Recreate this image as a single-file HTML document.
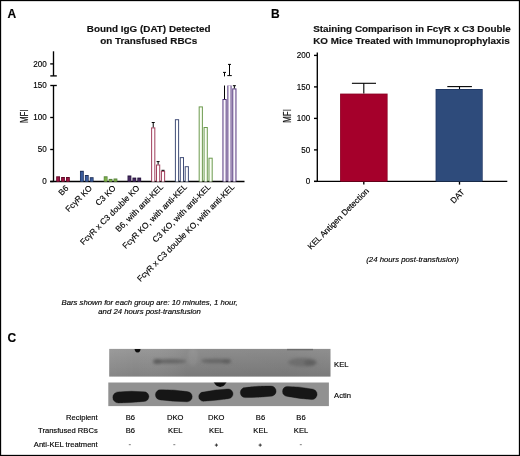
<!DOCTYPE html><html><head><meta charset="utf-8"><style>html,body{margin:0;padding:0;background:#fff;}svg{display:block;opacity:0.999;}text{font-family:"Liberation Sans", sans-serif;stroke:#000;stroke-width:0.15px;paint-order:stroke;}</style></head><body>
<svg width="520" height="456" viewBox="0 0 520 456">
<defs><filter id="b1" x="-50%" y="-50%" width="200%" height="200%"><feGaussianBlur stdDeviation="1.2"/></filter><filter id="b2" x="-50%" y="-50%" width="200%" height="200%"><feGaussianBlur stdDeviation="2.2"/></filter><filter id="b15" x="-50%" y="-50%" width="200%" height="200%"><feGaussianBlur stdDeviation="1.6"/></filter><filter id="b07" x="-50%" y="-50%" width="200%" height="200%"><feGaussianBlur stdDeviation="0.9"/></filter><filter id="b05" x="-50%" y="-50%" width="200%" height="200%"><feGaussianBlur stdDeviation="0.6"/></filter><clipPath id="cpA"><rect x="108.3" y="382.5" width="220.6" height="23.6"/></clipPath><clipPath id="cpK"><rect x="109.2" y="348.9" width="221.3" height="27.7"/></clipPath><filter id="gb" x="0" y="0" width="520" height="456" filterUnits="userSpaceOnUse"><feGaussianBlur stdDeviation="0"/></filter><linearGradient id="kelv" x1="0" y1="0" x2="0" y2="1"><stop offset="0" stop-color="#979797"/><stop offset="0.5" stop-color="#8c8c8c"/><stop offset="1" stop-color="#828282"/></linearGradient><linearGradient id="kelh" x1="0" y1="0" x2="1" y2="0"><stop offset="0" stop-color="#fff" stop-opacity="0.04"/><stop offset="0.12" stop-color="#fff" stop-opacity="0"/><stop offset="0.35" stop-color="#000" stop-opacity="0.06"/><stop offset="0.8" stop-color="#000" stop-opacity="0.08"/><stop offset="1" stop-color="#000" stop-opacity="0.05"/></linearGradient></defs>
<rect x="0" y="0" width="520" height="456" fill="#fff"/>
<rect x="0.5" y="0.5" width="519" height="455" fill="none" stroke="#000" stroke-width="1.3"/>
<text x="7.6" y="17.5" font-size="12" font-weight="bold" fill="#000">A</text>
<text x="271.0" y="17.5" font-size="12" font-weight="bold" fill="#000">B</text>
<text x="7.4" y="342.2" font-size="12" font-weight="bold" fill="#000">C</text>
<text x="148.7" y="32.3" font-size="9.9" font-weight="bold" text-anchor="middle" fill="#111">Bound IgG (DAT) Detected</text>
<text x="148.7" y="43.9" font-size="9.9" font-weight="bold" text-anchor="middle" fill="#111">on Transfused RBCs</text>
<text x="313.2" y="31.9" font-size="9.9" font-weight="bold" fill="#111">Staining Comparison in Fc&#947;R x C3 Double</text>
<text x="313.2" y="43.6" font-size="9.9" font-weight="bold" fill="#111">KO Mice Treated with Immunoprophylaxis</text>
<g stroke="#000" stroke-width="1.35" fill="none">
<line x1="53.5" y1="85.5" x2="53.5" y2="181.5"/>
<line x1="53.5" y1="51.3" x2="53.5" y2="75.9"/>
<line x1="50.3" y1="75.9" x2="56.8" y2="75.9"/>
<line x1="50.3" y1="85.5" x2="56.8" y2="85.5"/>
<line x1="50.2" y1="63.9" x2="53.5" y2="63.9"/>
<line x1="50.2" y1="181.50" x2="53.5" y2="181.50"/>
<line x1="50.2" y1="149.50" x2="53.5" y2="149.50"/>
<line x1="50.2" y1="117.50" x2="53.5" y2="117.50"/>
<line x1="50.2" y1="181.5" x2="244.5" y2="181.5"/>
</g>
<text transform="translate(46.8,66.65) scale(0.94,1)" font-size="8.6" text-anchor="end" fill="#000">200</text>
<text transform="translate(46.8,88.25) scale(0.94,1)" font-size="8.6" text-anchor="end" fill="#000">150</text>
<text transform="translate(46.8,120.25) scale(0.94,1)" font-size="8.6" text-anchor="end" fill="#000">100</text>
<text transform="translate(46.8,152.25) scale(0.94,1)" font-size="8.6" text-anchor="end" fill="#000">50</text>
<text transform="translate(46.8,184.25) scale(0.94,1)" font-size="8.6" text-anchor="end" fill="#000">0</text>
<text transform="translate(27.8,116.2) rotate(-90) scale(0.8,1)" font-size="10" text-anchor="middle" fill="#111">MFI</text>
<rect x="56.20" y="176.30" width="3.80" height="5.20" fill="#5e0a26"/>
<rect x="56.80" y="177.30" width="2.60" height="4.20" fill="#9a1442"/>
<rect x="61.10" y="177.00" width="3.80" height="4.50" fill="#5e0a26"/>
<rect x="61.70" y="178.00" width="2.60" height="3.50" fill="#9a1442"/>
<rect x="66.00" y="177.00" width="3.80" height="4.50" fill="#5e0a26"/>
<rect x="66.60" y="178.00" width="2.60" height="3.50" fill="#9a1442"/>
<rect x="79.98" y="170.80" width="3.80" height="10.70" fill="#1c2d55"/>
<rect x="80.58" y="171.80" width="2.60" height="9.70" fill="#3a5b9b"/>
<rect x="84.88" y="175.00" width="3.80" height="6.50" fill="#1c2d55"/>
<rect x="85.48" y="176.00" width="2.60" height="5.50" fill="#3a5b9b"/>
<rect x="89.78" y="177.20" width="3.80" height="4.30" fill="#1c2d55"/>
<rect x="90.38" y="178.20" width="2.60" height="3.30" fill="#3a5b9b"/>
<rect x="103.76" y="176.30" width="3.80" height="5.20" fill="#55803a"/>
<rect x="104.36" y="177.30" width="2.60" height="4.20" fill="#7db048"/>
<rect x="108.66" y="178.90" width="3.80" height="2.60" fill="#55803a"/>
<rect x="109.26" y="179.90" width="2.60" height="1.60" fill="#7db048"/>
<rect x="113.56" y="178.50" width="3.80" height="3.00" fill="#55803a"/>
<rect x="114.16" y="179.50" width="2.60" height="2.00" fill="#7db048"/>
<rect x="127.54" y="175.50" width="3.80" height="6.00" fill="#24123a"/>
<rect x="128.14" y="176.50" width="2.60" height="5.00" fill="#45295f"/>
<rect x="132.44" y="177.60" width="3.80" height="3.90" fill="#24123a"/>
<rect x="133.04" y="178.60" width="2.60" height="2.90" fill="#45295f"/>
<rect x="137.34" y="177.60" width="3.80" height="3.90" fill="#24123a"/>
<rect x="137.94" y="178.60" width="2.60" height="2.90" fill="#45295f"/>
<rect x="151.12" y="127.40" width="4.20" height="54.10" fill="#a03f5c"/>
<rect x="152.12" y="128.40" width="2.20" height="53.10" fill="#fff"/>
<g stroke="#000" stroke-width="1"><line x1="153.22" y1="122.50" x2="153.22" y2="127.40"/><line x1="151.72" y1="122.50" x2="154.72" y2="122.50"/></g>
<rect x="156.02" y="164.50" width="4.20" height="17.00" fill="#a03f5c"/>
<rect x="157.02" y="165.50" width="2.20" height="16.00" fill="#fff"/>
<g stroke="#000" stroke-width="1"><line x1="158.12" y1="161.60" x2="158.12" y2="164.50"/><line x1="156.62" y1="161.60" x2="159.62" y2="161.60"/></g>
<rect x="160.92" y="170.80" width="4.20" height="10.70" fill="#a03f5c"/>
<rect x="161.92" y="171.80" width="2.20" height="9.70" fill="#fff"/>
<g stroke="#000" stroke-width="1"><line x1="163.02" y1="170.30" x2="163.02" y2="170.80"/><line x1="161.52" y1="170.30" x2="164.52" y2="170.30"/></g>
<rect x="174.90" y="119.20" width="4.20" height="62.30" fill="#414e78"/>
<rect x="175.90" y="120.20" width="2.20" height="61.30" fill="#fff"/>
<rect x="179.80" y="157.10" width="4.20" height="24.40" fill="#414e78"/>
<rect x="180.80" y="158.10" width="2.20" height="23.40" fill="#fff"/>
<rect x="184.70" y="166.20" width="4.20" height="15.30" fill="#414e78"/>
<rect x="185.70" y="167.20" width="2.20" height="14.30" fill="#fff"/>
<rect x="198.68" y="106.40" width="4.20" height="75.10" fill="#6c9a4e"/>
<rect x="199.68" y="107.40" width="2.20" height="74.10" fill="#fbfff6"/>
<rect x="203.58" y="127.00" width="4.20" height="54.50" fill="#6c9a4e"/>
<rect x="204.58" y="128.00" width="2.20" height="53.50" fill="#fbfff6"/>
<rect x="208.48" y="157.70" width="4.20" height="23.80" fill="#6c9a4e"/>
<rect x="209.48" y="158.70" width="2.20" height="22.80" fill="#fbfff6"/>
<rect x="222.46" y="99.00" width="4.20" height="82.50" fill="#54377e"/>
<rect x="223.46" y="100.00" width="2.20" height="81.50" fill="#faf7fc"/>
<rect x="227.36" y="85.50" width="4.20" height="96.00" fill="#54377e"/>
<rect x="228.36" y="85.50" width="2.20" height="96.00" fill="#faf7fc"/>
<rect x="232.26" y="88.40" width="4.20" height="93.10" fill="#54377e"/>
<rect x="233.26" y="89.40" width="2.20" height="92.10" fill="#faf7fc"/>
<g stroke="#000" stroke-width="1"><line x1="234.36" y1="85.70" x2="234.36" y2="88.40"/><line x1="232.86" y1="85.70" x2="235.86" y2="85.70"/></g>
<g stroke="#000" stroke-width="1" fill="none">
<line x1="224.5" y1="85.5" x2="224.5" y2="99"/>
<line x1="224.5" y1="72.4" x2="224.5" y2="76.4"/><line x1="223.0" y1="72.4" x2="226.0" y2="72.4"/>
<line x1="229.5" y1="64.4" x2="229.5" y2="75.4"/><line x1="228.0" y1="64.4" x2="231.0" y2="64.4"/>
<line x1="227.3" y1="75.6" x2="231.8" y2="75.6"/>
</g>
<text transform="translate(68.90,188.70) rotate(-45)" font-size="8.3" text-anchor="end" fill="#000">B6</text>
<text transform="translate(92.66,188.70) rotate(-45)" font-size="8.3" text-anchor="end" fill="#000">Fc&#947;R KO</text>
<text transform="translate(116.42,188.70) rotate(-45)" font-size="8.3" text-anchor="end" fill="#000">C3 KO</text>
<text transform="translate(140.18,188.70) rotate(-45)" font-size="8.3" text-anchor="end" fill="#000">Fc&#947;R x C3 double KO</text>
<text transform="translate(163.74,187.60) rotate(-45)" font-size="8.3" text-anchor="end" fill="#000">B6, with anti-KEL</text>
<text transform="translate(187.50,187.60) rotate(-45)" font-size="8.3" text-anchor="end" fill="#000">Fc&#947;R KO, with anti-KEL</text>
<text transform="translate(211.26,187.60) rotate(-45)" font-size="8.3" text-anchor="end" fill="#000">C3 KO, with anti-KEL</text>
<text transform="translate(235.02,187.60) rotate(-45)" font-size="8.3" text-anchor="end" fill="#000">Fc&#947;R x C3 double KO, with anti-KEL</text>
<text x="149.6" y="305.1" font-size="7.75" font-style="italic" text-anchor="middle" fill="#000">Bars shown for each group are: 10 minutes, 1 hour,</text>
<text x="149.6" y="313.6" font-size="7.75" font-style="italic" text-anchor="middle" fill="#000">and 24 hours post-transfusion</text>
<g stroke="#000" stroke-width="1.35" fill="none">
<line x1="317.3" y1="52.5" x2="317.3" y2="181.4"/>
<line x1="314.0" y1="181.40" x2="317.3" y2="181.40"/>
<line x1="314.0" y1="149.90" x2="317.3" y2="149.90"/>
<line x1="314.0" y1="118.40" x2="317.3" y2="118.40"/>
<line x1="314.0" y1="86.90" x2="317.3" y2="86.90"/>
<line x1="314.0" y1="55.40" x2="317.3" y2="55.40"/>
<line x1="314.0" y1="181.4" x2="507.3" y2="181.4"/>
<line x1="363.8" y1="181.4" x2="363.8" y2="184.6"/>
<line x1="459.5" y1="181.4" x2="459.5" y2="184.6"/>
</g>
<text transform="translate(310.2,184.15) scale(0.94,1)" font-size="8.6" text-anchor="end" fill="#000">0</text>
<text transform="translate(310.2,152.65) scale(0.94,1)" font-size="8.6" text-anchor="end" fill="#000">50</text>
<text transform="translate(310.2,121.15) scale(0.94,1)" font-size="8.6" text-anchor="end" fill="#000">100</text>
<text transform="translate(310.2,89.65) scale(0.94,1)" font-size="8.6" text-anchor="end" fill="#000">150</text>
<text transform="translate(310.2,58.15) scale(0.94,1)" font-size="8.6" text-anchor="end" fill="#000">200</text>
<text transform="translate(290.9,116.0) rotate(-90) scale(0.8,1)" font-size="10" text-anchor="middle" fill="#111">MFI</text>
<rect x="340.1" y="93.6" width="47.5" height="87.8" fill="#8a0022"/>
<rect x="340.8" y="94.4" width="46.1" height="87.0" fill="#a5002b"/>
<rect x="435.6" y="89.0" width="47.1" height="92.4" fill="#1d3461"/>
<rect x="436.3" y="89.8" width="45.7" height="91.6" fill="#2e4b7b"/>
<g stroke="#000" stroke-width="1.1"><line x1="363.8" y1="83.3" x2="363.8" y2="93.6"/><line x1="351.9" y1="83.3" x2="376.0" y2="83.3"/><line x1="459.5" y1="86.6" x2="459.5" y2="89"/><line x1="447.3" y1="86.6" x2="471.9" y2="86.6"/></g>
<text transform="translate(369.5,191.5) rotate(-45)" font-size="8.3" text-anchor="end" fill="#000">KEL Antigen Detection</text>
<text transform="translate(465.0,192.6) rotate(-45)" font-size="8.3" text-anchor="end" fill="#000">DAT</text>
<text x="412.6" y="261.6" font-size="7.75" font-style="italic" text-anchor="middle" fill="#000">(24 hours post-transfusion)</text>
<rect x="109.2" y="348.9" width="221.3" height="27.7" fill="url(#kelv)"/>
<rect x="109.2" y="348.9" width="221.3" height="27.7" fill="url(#kelh)"/>
<rect x="287" y="348.9" width="26" height="1.4" fill="#6c6c6c"/>
<g clip-path="url(#cpK)"><g filter="url(#b15)">
<ellipse cx="193" cy="357" rx="5" ry="9" fill="#fff" opacity="0.06"/>
<ellipse cx="170.5" cy="361.3" rx="16" ry="2.3" fill="#666"/>
<ellipse cx="157.5" cy="361.6" rx="4.5" ry="2.5" fill="#5c5c5c"/>
<ellipse cx="215.8" cy="361.0" rx="14.6" ry="2.3" fill="#666"/>
<ellipse cx="226.5" cy="361.3" rx="4.5" ry="2.4" fill="#5f5f5f"/>
<ellipse cx="302.5" cy="362.3" rx="14.5" ry="4.4" fill="#6e6e6e"/>
<ellipse cx="310" cy="362.8" rx="6" ry="3" fill="#616161"/>
</g></g>
<path d="M134.5 348.0 L140.7 348.0 Q140.5 352.5 137.6 352.5 Q134.7 352.5 134.5 348.0 Z" fill="#111" filter="url(#b05)" clip-path="url(#cpK)"/>
<rect x="108.3" y="382.5" width="220.6" height="23.6" fill="#919191"/>
<g clip-path="url(#cpA)"><g filter="url(#b05)">
<path d="M118.30 391.90 Q131.20 390.65 144.10 391.80 A4.80 4.80 0 0 1 144.10 401.40 Q131.20 402.87 118.30 402.90 A5.50 5.50 0 0 1 118.30 391.90 Z" fill="#141414" stroke="#141414" stroke-opacity="0.35" stroke-width="1.0"/>
<path d="M160.50 389.70 Q173.80 389.45 187.10 391.60 A5.10 5.10 0 0 1 187.10 401.80 Q173.80 401.57 160.50 399.90 A5.10 5.10 0 0 1 160.50 389.70 Z" fill="#141414" stroke="#141414" stroke-opacity="0.35" stroke-width="1.0"/>
<path d="M203.25 392.10 Q215.70 389.35 228.15 389.00 A4.85 4.85 0 0 1 228.15 398.70 Q215.70 400.67 203.25 401.20 A4.55 4.55 0 0 1 203.25 392.10 Z" fill="#141414" stroke="#141414" stroke-opacity="0.35" stroke-width="1.0"/>
<path d="M245.30 387.60 Q258.18 385.65 271.05 386.10 A5.05 5.05 0 0 1 271.05 396.20 Q258.18 397.62 245.30 397.60 A5.00 5.00 0 0 1 245.30 387.60 Z" fill="#141414" stroke="#141414" stroke-opacity="0.35" stroke-width="1.0"/>
<path d="M287.50 386.40 Q299.65 386.50 311.80 389.00 A5.30 5.30 0 0 1 311.80 399.60 Q299.65 398.72 287.50 396.40 A5.00 5.00 0 0 1 287.50 386.40 Z" fill="#141414" stroke="#141414" stroke-opacity="0.35" stroke-width="1.0"/>
<path d="M213.6 382.0 L226.6 382.0 C225.2 385.2 222.6 386.9 220.2 386.9 C217.8 386.9 215.0 385.2 213.6 382.0 Z" fill="#111"/>
</g></g>
<text x="334.1" y="366.9" font-size="7.6" fill="#000">KEL</text>
<text x="334.1" y="398.0" font-size="7.6" fill="#000">Actin</text>
<text x="97.7" y="420.0" font-size="7.6" text-anchor="end" fill="#000">Recipient</text>
<text x="130.3" y="420.0" font-size="7.6" text-anchor="middle" fill="#000">B6</text>
<text x="175.3" y="420.0" font-size="7.6" text-anchor="middle" fill="#000">DKO</text>
<text x="216.3" y="420.0" font-size="7.6" text-anchor="middle" fill="#000">DKO</text>
<text x="260.5" y="420.0" font-size="7.6" text-anchor="middle" fill="#000">B6</text>
<text x="301.0" y="420.0" font-size="7.6" text-anchor="middle" fill="#000">B6</text>
<text x="97.7" y="433.4" font-size="7.6" text-anchor="end" fill="#000">Transfused RBCs</text>
<text x="130.3" y="433.4" font-size="7.6" text-anchor="middle" fill="#000">B6</text>
<text x="175.3" y="433.4" font-size="7.6" text-anchor="middle" fill="#000">KEL</text>
<text x="216.3" y="433.4" font-size="7.6" text-anchor="middle" fill="#000">KEL</text>
<text x="260.5" y="433.4" font-size="7.6" text-anchor="middle" fill="#000">KEL</text>
<text x="301.0" y="433.4" font-size="7.6" text-anchor="middle" fill="#000">KEL</text>
<text x="97.7" y="446.8" font-size="7.6" text-anchor="end" fill="#000">Anti-KEL treatment</text>
<rect x="128.80" y="444.1" width="2.0" height="1.1" fill="#8a8a8a"/>
<rect x="173.30" y="444.1" width="2.0" height="1.1" fill="#8a8a8a"/>
<path d="M214.80 445.1 H218.00 M216.40 443.5 V446.7" stroke="#222" stroke-width="0.9" fill="none"/>
<path d="M258.60 445.1 H261.80 M260.20 443.5 V446.7" stroke="#222" stroke-width="0.9" fill="none"/>
<rect x="299.80" y="444.1" width="2.0" height="1.1" fill="#8a8a8a"/>
</svg></body></html>
